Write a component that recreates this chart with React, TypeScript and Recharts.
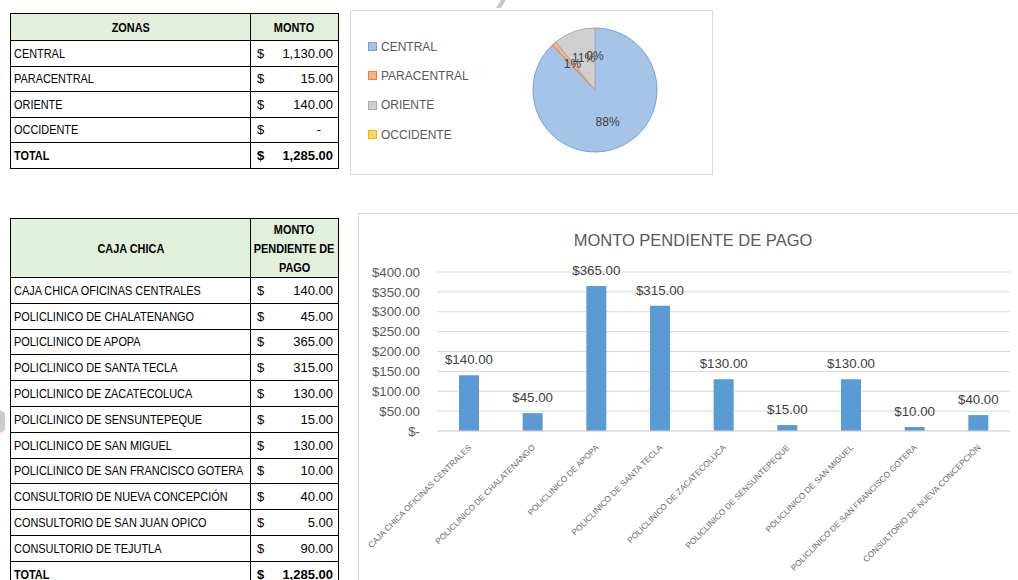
import React from 'react';
import {
  PieChart,
  Pie,
  Cell,
  BarChart,
  Bar,
  XAxis,
  YAxis,
  CartesianGrid,
  LabelList,
} from 'recharts';

// zonas (tabla superior + pastel)
const zonas = ['CENTRAL', 'PARACENTRAL', 'ORIENTE', 'OCCIDENTE'];
const montosZona = [1130, 15, 140, 0];
const zonaFill = ['#a6c3e8', '#f5b38a', '#d0d0d0', '#fdd672'];
const zonaBorde = ['#73a2d9', '#ed7d3a', '#ababab', '#f0b800'];

// caja chica (tabla inferior + barras)
const cajas = [
  'CAJA CHICA OFICINAS CENTRALES',
  'POLICLINICO DE CHALATENANGO',
  'POLICLINICO DE APOPA',
  'POLICLINICO DE SANTA TECLA',
  'POLICLINICO DE ZACATECOLUCA',
  'POLICLINICO DE SENSUNTEPEQUE',
  'POLICLINICO DE SAN MIGUEL',
  'POLICLINICO DE SAN FRANCISCO GOTERA',
  'CONSULTORIO DE NUEVA CONCEPCIÓN',
  'CONSULTORIO DE SAN JUAN OPICO',
  'CONSULTORIO DE TEJUTLA',
];
const montosCaja = [140, 45, 365, 315, 130, 15, 130, 10, 40, 5, 90];
// el gráfico solo toma las primeras 9 filas
const filasGrafico = 9;
const yTicks = [0, 50, 100, 150, 200, 250, 300, 350, 400];

const pieData = zonas.map((z, i) => ({ name: z, value: montosZona[i] }));
const barData = cajas
  .slice(0, filasGrafico)
  .map((c, i) => ({ name: c, monto: montosCaja[i] }));

const sum = (a: number[]) => a.reduce((s, v) => s + v, 0);
const fmt = (v: number) =>
  v.toLocaleString('en-US', { minimumFractionDigits: 2, maximumFractionDigits: 2 });
const money = (v: number) => (v === 0 ? '$-' : `$${fmt(v)}`);

const font = "'Liberation Sans', Arial, sans-serif";

const td: React.CSSProperties = {
  border: '1px solid #000',
  padding: '0 3px',
  whiteSpace: 'nowrap',
  overflow: 'hidden',
};
const th: React.CSSProperties = {
  ...td,
  background: '#e2efda',
  fontWeight: 'bold',
  textAlign: 'center',
};
const tableStyle: React.CSSProperties = {
  position: 'absolute',
  left: 10,
  width: 328,
  borderCollapse: 'collapse',
  tableLayout: 'fixed',
  fontFamily: font,
  fontSize: 13,
  color: '#000',
};

// texto estrecho tipo Calibri
function Angosto({ children, centro }: { children: React.ReactNode; centro?: boolean }) {
  return (
    <span
      style={{
        display: 'inline-block',
        transform: 'scaleX(0.84)',
        transformOrigin: centro ? 'center' : 'left',
        margin: centro ? '0 -30px' : 0,
      }}
    >
      {children}
    </span>
  );
}

function Monto({ v, bold }: { v: number; bold?: boolean }) {
  return (
    <td style={{ ...td, fontWeight: bold ? 'bold' : 'normal', padding: '0 5px 0 6px' }}>
      <div style={{ display: 'flex', justifyContent: 'space-between' }}>
        <span>$</span>
        <span style={{ paddingRight: v === 0 ? 12 : 0 }}>{v === 0 ? '-' : fmt(v)}</span>
      </div>
    </td>
  );
}

function TablaZonas() {
  return (
    <table style={{ ...tableStyle, top: 13 }}>
      <colgroup>
        <col style={{ width: 240 }} />
        <col style={{ width: 88 }} />
      </colgroup>
      <tbody>
        <tr style={{ height: 27 }}>
          <td style={th}><Angosto centro>ZONAS</Angosto></td>
          <td style={th}><Angosto centro>MONTO</Angosto></td>
        </tr>
        {zonas.map((z, i) => (
          <tr key={z} style={{ height: 25.5 }}>
            <td style={td}><Angosto>{z}</Angosto></td>
            <Monto v={montosZona[i]} />
          </tr>
        ))}
        <tr style={{ height: 25.5 }}>
          <td style={{ ...td, fontWeight: 'bold' }}><Angosto>TOTAL</Angosto></td>
          <Monto v={sum(montosZona)} bold />
        </tr>
      </tbody>
    </table>
  );
}

function TablaCajas() {
  return (
    <table style={{ ...tableStyle, top: 218 }}>
      <colgroup>
        <col style={{ width: 240 }} />
        <col style={{ width: 88 }} />
      </colgroup>
      <tbody>
        <tr style={{ height: 59 }}>
          <td style={th}><Angosto centro>CAJA CHICA</Angosto></td>
          <td style={{ ...th, lineHeight: '19px', padding: 0 }}>
            <Angosto centro>MONTO</Angosto>
            <br />
            <Angosto centro>PENDIENTE DE</Angosto>
            <br />
            <Angosto centro>PAGO</Angosto>
          </td>
        </tr>
        {cajas.map((c, i) => (
          <tr key={c} style={{ height: 25.8 }}>
            <td style={td}><Angosto>{c}</Angosto></td>
            <Monto v={montosCaja[i]} />
          </tr>
        ))}
        <tr style={{ height: 25.8 }}>
          <td style={{ ...td, fontWeight: 'bold' }}><Angosto>TOTAL</Angosto></td>
          <Monto v={sum(montosCaja)} bold />
        </tr>
      </tbody>
    </table>
  );
}

const RADIAN = Math.PI / 180;
function PieLabel(props: any) {
  const { cx, cy, midAngle, outerRadius, percent } = props;
  const r = outerRadius * 0.55;
  const x = cx + r * Math.cos(-midAngle * RADIAN);
  const y = cy + r * Math.sin(-midAngle * RADIAN);
  return (
    <text x={x} y={y} textAnchor="middle" dominantBaseline="central" fill="#404040" fontSize={12} fontFamily={font}>
      {`${Math.round(percent * 100)}%`}
    </text>
  );
}

function GraficoZonas() {
  return (
    <div
      style={{
        position: 'absolute',
        left: 350,
        top: 10,
        width: 361,
        height: 163,
        border: '1px solid #d9d9d9',
        background: '#fff',
      }}
    >
      <div
        style={{
          position: 'absolute',
          left: 17,
          top: 21,
          fontFamily: font,
          fontSize: 12,
          color: '#595959',
        }}
      >
        {zonas.map((z, i) => (
          <div key={z} style={{ height: 29.3, display: 'flex', alignItems: 'center' }}>
            <span
              style={{
                display: 'inline-block',
                width: 7,
                height: 7,
                background: zonaFill[i],
                border: `1px solid ${zonaBorde[i]}`,
                marginRight: 4,
              }}
            />
            {z}
          </div>
        ))}
      </div>
      <PieChart width={361} height={163} margin={{ top: 0, right: 0, bottom: 0, left: 0 }}>
        <Pie
          data={pieData}
          dataKey="value"
          nameKey="name"
          cx={244}
          cy={79}
          outerRadius={62}
          startAngle={90}
          endAngle={-270}
          labelLine={false}
          label={PieLabel}
          isAnimationActive={false}
        >
          {pieData.map((d, i) => (
            <Cell key={d.name} fill={zonaFill[i]} stroke={zonaBorde[i]} strokeWidth={1} />
          ))}
        </Pie>
      </PieChart>
    </div>
  );
}

function TickRotado(props: any) {
  const { x, y, payload } = props;
  return (
    <g transform={`translate(${x + 3},${y + 9}) rotate(-45)`}>
      <text x={0} y={0} textAnchor="end" fill="#6b6b6b" fontSize={8.3} fontFamily={font}>
        {payload.value}
      </text>
    </g>
  );
}

function GraficoCajas() {
  return (
    <div
      style={{
        position: 'absolute',
        left: 358,
        top: 213,
        width: 670,
        height: 380,
        border: '1px solid #d9d9d9',
        background: '#fff',
      }}
    >
      <div
        style={{
          position: 'absolute',
          left: 0,
          top: 17,
          width: 668,
          textAlign: 'center',
          fontFamily: font,
          fontSize: 16.5,
          color: '#595959',
        }}
      >
        MONTO PENDIENTE DE PAGO
      </div>
      <BarChart width={668} height={378} data={barData} margin={{ top: 58, right: 17, left: 0, bottom: 0 }}>
        <CartesianGrid vertical={false} stroke="#d9d9d9" />
        <XAxis
          dataKey="name"
          interval={0}
          height={161}
          tick={<TickRotado />}
          axisLine={{ stroke: '#d9d9d9' }}
          tickLine={false}
        />
        <YAxis
          width={78}
          domain={[0, 400]}
          ticks={yTicks}
          interval={0}
          tickFormatter={money}
          axisLine={false}
          tickLine={false}
          tickMargin={11}
          tick={{ fill: '#595959', fontSize: 13.3, fontFamily: font }}
        />
        <Bar dataKey="monto" fill="#5b9bd5" barSize={20} isAnimationActive={false}>
          <LabelList
            dataKey="monto"
            position="top"
            offset={11}
            formatter={(v: any) => money(Number(v))}
            fill="#404040"
            fontSize={13.3}
            fontFamily={font}
          />
        </Bar>
      </BarChart>
    </div>
  );
}

// marcas grises de fondo (restos de la captura)
function Decoracion() {
  return (
    <svg width={1018} height={580} style={{ position: 'absolute', left: 0, top: 0, pointerEvents: 'none' }}>
      <polygon points="496,8 501,8 506,0 501,0" fill="#c8c8c8" />
      <polygon points="0,410 5,413 5,430 0,433" fill="#cccccc" />
    </svg>
  );
}

export default function App() {
  return (
    <div
      style={{
        position: 'absolute',
        left: 0,
        top: 0,
        width: 1018,
        height: 580,
        overflow: 'hidden',
        background: '#fff',
      }}
    >
      <TablaZonas />
      <GraficoZonas />
      <TablaCajas />
      <GraficoCajas />
      <Decoracion />
    </div>
  );
}
